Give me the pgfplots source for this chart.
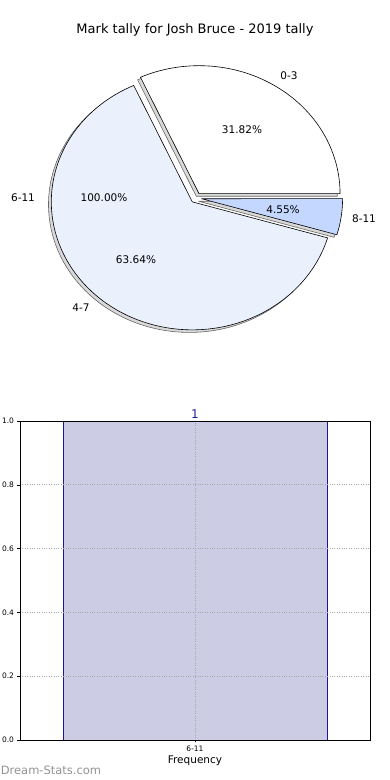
\documentclass[border=0pt]{standalone}
\usepackage{pgfplots}
\pgfplotsset{compat=1.18}
\usepackage{fontspec}
\setmainfont{DejaVu Sans}
\definecolor{sliceA}{HTML}{FFFFFF}
\definecolor{sliceB}{HTML}{EBF0FD}
\definecolor{sliceC}{HTML}{C4D8FF}
\definecolor{barfill}{HTML}{CCCCE5}
\definecolor{baredge}{HTML}{1A1A8C}
\definecolor{valblue}{HTML}{1E1EA0}

% pie data (percent)
\def\pctA{31.82} % 0-3
\def\pctB{63.64} % 4-7
\def\pctC{0}     % 6-11
\def\pctD{4.55}  % 8-11
% geometry (picture units = px)
\def\cx{196}\def\cy{582}\def\rx{141}\def\ry{128}\def\ex{0.04}

\pgfmathsetmacro\aA{0}
\pgfmathsetmacro\aB{\aA+3.6*\pctA}
\pgfmathsetmacro\aC{\aB+3.6*\pctB}
\pgfmathsetmacro\aD{\aC+3.6*\pctC}
\pgfmathsetmacro\aE{\aD+3.6*\pctD}

\newcommand{\pieslice}[4]{%
  \pgfmathsetmacro\pmid{(#1+#2)/2}%
  \pgfmathsetmacro\pcx{\cx+\ex*\rx*cos(\pmid)+#4*(-0.02)*\rx}%
  \pgfmathsetmacro\pcy{\cy+\ex*\ry*sin(\pmid)+#4*(-0.02)*\ry}%
  \edef\doslice{\noexpand\addplot[#3, domain=#1:#2, samples=120, line join=round]
     ({\pcx+\rx*cos(x)},{\pcy+\ry*sin(x)}) -- (axis cs:\pcx,\pcy) -- cycle;}%
  \doslice
}

\begin{document}
\begin{tikzpicture}
\useasboundingbox (0,0) rectangle (390pt,780pt);
\begin{axis}[at={(0pt,0pt)}, anchor=south west, width=390pt, height=780pt,
  scale only axis, xmin=0, xmax=390, ymin=0, ymax=780, hide axis, clip=false]
  % shadows
  \pieslice{\aA}{\aB}{fill=gray!30, draw=black!60, line width=0.6pt}{1}
  \pieslice{\aB}{\aC}{fill=gray!30, draw=black!60, line width=0.6pt}{1}
  \pieslice{\aD}{\aE}{fill=gray!30, draw=black!60, line width=0.6pt}{1}
  % wedges
  \pieslice{\aA}{\aB}{fill=sliceA, draw=black, line width=0.6pt}{0}
  \pieslice{\aB}{\aC}{fill=sliceB, draw=black, line width=0.6pt}{0}
  \pieslice{\aD}{\aE}{fill=sliceC, draw=black, line width=0.6pt}{0}
  % labels
  \node[font=\fontsize{13}{15}\selectfont] at (axis cs:195,750) {Mark tally for Josh Bruce - 2019 tally};
  \begin{scope}[every node/.style={font=\fontsize{10.5}{12}\selectfont}]
  \node at (axis cs:289,704) {0-3};
  \node at (axis cs:242,650) {31.82\%};
  \node at (axis cs:23,582) {6-11};
  \node at (axis cs:104,582) {100.00\%};
  \node at (axis cs:283,570) {4.55\%};
  \node at (axis cs:364,561) {8-11};
  \node at (axis cs:136,520) {63.64\%};
  \node at (axis cs:81,472) {4-7};
  \end{scope}
  \node[text=gray!85, font=\fontsize{11.5}{13}\selectfont] at (axis cs:51,10) {Dream-Stats.com};
\end{axis}
\begin{axis}[at={(20pt,40pt)}, anchor=south west, width=350pt, height=319pt,
  scale only axis, xmin=-0.53, xmax=0.53, ymin=0, ymax=1,
  xtick={0}, xticklabels={6-11}, ytick={0,0.2,0.4,0.6,0.8,1.0},
  yticklabel style={/pgf/number format/.cd, fixed, fixed zerofill, precision=1},
  /pgf/number format/assume math mode=true,
  grid=major, major grid style={gray!70, dotted, line width=0.7pt},
  tick label style={font=\fontsize{7.5}{8}\selectfont},
  xlabel={Frequency}, xlabel style={font=\fontsize{10.5}{12}\selectfont, yshift=3pt},
  axis line style={black, line width=0.7pt}, tick style={black, line width=0.5pt},
  tick align=outside, major tick length=2.5pt, tick pos=left,
  axis on top, clip=false]
  \addplot[ybar, bar width=0.8, bar shift=0pt, fill=barfill, draw=baredge, line width=0.7pt,
    nodes near coords, nodes near coords style={text=valblue, font=\fontsize{12}{14}\selectfont, inner sep=2pt}]
    coordinates {(0,1)};
\end{axis}
\end{tikzpicture}
\end{document}
